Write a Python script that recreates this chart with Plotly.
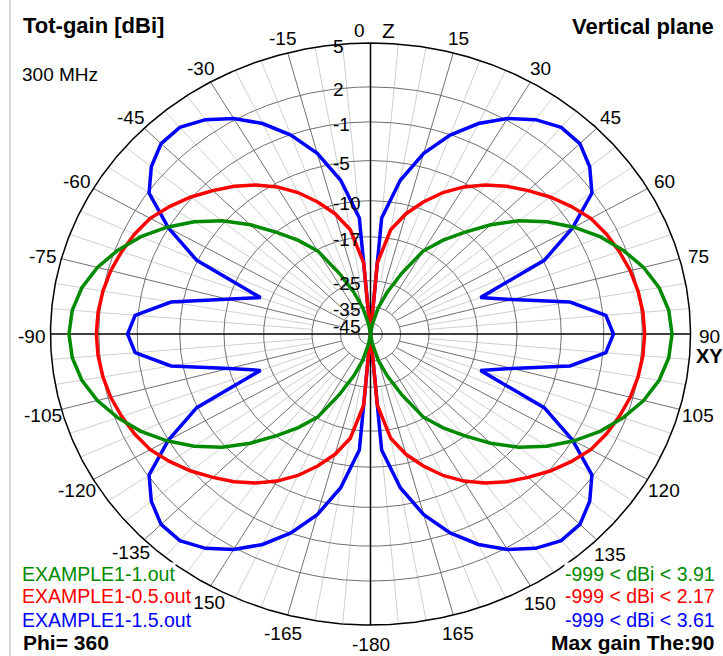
import numpy as np
import plotly.graph_objects as go

# Elevation angle (deg from +Z, positive to the right), 5 degree steps
theta = list(range(-180, 181, 5))

# Total gain [dBi] per file, theta = -180 ... 180
gain_1 = [
    -999, -63.8, -45.8, -35.1, -27.7, -22.0, -17.2, -13.4, -10.1, -7.2,
    -4.7, -2.6, -0.86, 0.62, 1.81, 2.73, 3.39, 3.78, 3.91,
    3.78, 3.39, 2.73, 1.81, 0.62, -0.86, -2.6, -4.7, -7.2, -10.1,
    -13.4, -17.2, -22.0, -27.7, -35.1, -45.8, -63.8,
    -999,
    -63.8, -45.8, -35.1, -27.7, -22.0, -17.2, -13.4, -10.1, -7.2,
    -4.7, -2.6, -0.86, 0.62, 1.81, 2.73, 3.39, 3.78,
    3.91, 3.78, 3.39, 2.73, 1.81, 0.62, -0.86, -2.6, -4.7, -7.2,
    -10.1, -13.4, -17.2, -22.0, -27.7, -35.1, -45.8, -63.8, -999,
]
gain_05 = [
    -999, -21.1, -15.1, -11.5, -9.0, -7.0, -5.4, -4.05, -2.9, -1.9,
    -0.9, -0.05, 0.7, 1.15, 1.5, 1.8, 2.0, 2.12, 2.17,
    2.12, 2.0, 1.8, 1.5, 1.15, 0.7, -0.05, -0.9, -1.9, -2.9,
    -4.05, -5.4, -7.0, -9.0, -11.5, -15.1, -21.1,
    -999,
    -21.1, -15.1, -11.5, -9.0, -7.0, -5.4, -4.05, -2.9, -1.9,
    -0.9, -0.05, 0.7, 1.15, 1.5, 1.8, 2.0, 2.12,
    2.17, 2.12, 2.0, 1.8, 1.5, 1.15, 0.7, -0.05, -0.9, -1.9,
    -2.9, -4.05, -5.4, -7.0, -9.0, -11.5, -15.1, -21.1, -999,
]
gain_15 = [
    -999, -13.0, -7.0, -3.5, -1.04, 0.78, 2.13, 3.05, 3.61, 3.58,
    2.95, 1.9, -1.0, -4.9, -15.0, -10.0, -3.8, -0.75, -0.2,
    -0.75, -3.8, -10.0, -15.0, -4.9, -1.0, 1.9, 2.95, 3.58, 3.61,
    3.05, 2.13, 0.78, -1.04, -3.5, -7.0, -13.0,
    -999,
    -13.0, -7.0, -3.5, -1.04, 0.78, 2.13, 3.05, 3.61, 3.58,
    2.95, 1.9, -1.0, -4.9, -15.0, -10.0, -3.8, -0.75,
    -0.2, -0.75, -3.8, -10.0, -15.0, -4.9, -1.0, 1.9, 2.95, 3.58,
    3.61, 3.05, 2.13, 0.78, -1.04, -3.5, -7.0, -13.0, -999,
]

files = ["EXAMPLE1-1.out", "EXAMPLE1-0.5.out", "EXAMPLE1-1.5.out"]
max_gain = ["3.91", "2.17", "3.61"]
colors = ["#008a00", "#ff0000", "#0000ff"]

# Gain rings of the log-style radial scale
ring_db = [5, 2, -1, -5, -10, -17, -25, -35, -45]
ring_pos = [1.0, 0.849, 0.729, 0.596, 0.458, 0.334, 0.183, 0.094, 0.037]
angle_labels = list(range(-180, 180, 15))

W, H = 723, 656
CX, CY = 370.5, 334.0
RX, RY = 320.0, 291.0

_xp = np.array(ring_db[::-1], float)
_fp = np.log(np.array(ring_pos[::-1], float))


def radius(db):
    db = np.asarray(db, float)
    r = np.exp(np.interp(db, _xp, _fp))
    low = db < ring_db[-1]
    r[low] = np.clip(ring_pos[-1] * (db[low] - ring_db[-1] + 10) / 10, 0, None)
    return r


def to_xy(t_deg, r):
    t = np.radians(np.asarray(t_deg, float))
    r = np.asarray(r, float)
    return CX + RX * r * np.sin(t), CY - RY * r * np.cos(t)


fig = go.Figure()


def add_lines(segments, color, width):
    xs, ys = [], []
    for sx, sy in segments:
        xs += list(sx) + [None]
        ys += list(sy) + [None]
    fig.add_trace(go.Scatter(x=xs, y=ys, mode="lines", hoverinfo="skip",
                             line=dict(color=color, width=width), showlegend=False))


# light 5-degree spokes
light = []
for a in range(0, 360, 5):
    if a % 15:
        light.append(to_xy([a, a], [ring_pos[6], 1.0]))
add_lines(light, "#cfcfcf", 1)

# dark 15-degree spokes
dark = []
for a in range(0, 360, 15):
    if a % 90:
        dark.append(to_xy([a, a], [ring_pos[7], 1.0]))
add_lines(dark, "#707070", 1)

# gain rings
t_full = np.linspace(0, 360, 721)
add_lines([to_xy(t_full, np.full_like(t_full, p)) for p in ring_pos[1:]], "#707070", 1)
add_lines([to_xy(t_full, np.ones_like(t_full))], "#000000", 1.5)

# Z and XY axes
add_lines([to_xy([0, 180], [1, 1]), to_xy([-90, 90], [1, 1])], "#000000", 1.5)

# left frame edge
fig.add_shape(type="line", xref="x", yref="y", x0=10, x1=10, y0=0, y1=H,
              line=dict(color="#c8c8c8", width=1.5))

# gain patterns (last file drawn first)
for g, c in [(gain_15, colors[2]), (gain_05, colors[1]), (gain_1, colors[0])]:
    x, y = to_xy(theta, radius(g))
    fig.add_trace(go.Scatter(x=x, y=y, mode="lines", hoverinfo="skip",
                             line=dict(color=c, width=3.5), showlegend=False))

FONT = "Liberation Sans"
ann = []


def text(x, y, s, size=19, color="black", bold=False, xa="center", ya="middle",
         bg=None, width=None):
    d = dict(x=x, y=y, xref="x", yref="y", text=f"<b>{s}</b>" if bold else s,
             showarrow=False, xanchor=xa, yanchor=ya,
             font=dict(family=FONT, size=size, color=color))
    if bg:
        d["bgcolor"] = bg
        d["borderpad"] = 0
    if width:
        d["width"] = width
        d["align"] = "left" if xa == "left" else "right"
    ann.append(d)


# angle labels around the rim
for a in angle_labels:
    lx, ly = to_xy(a, 1.06)
    if a == 0:
        text(CX - 4, 30, "0", xa="right")
    elif a == -150:
        text(float(lx) + 5, float(ly) + 1, str(a))
    elif a == -135:
        text(float(lx), float(ly), str(a))
    else:
        text(float(lx), float(ly) + 2, str(a))
text(CX + 9, 30, "Z", size=21, xa="left")
text(694, 356, "XY", size=20, bold=True, xa="left")

# ring labels along the Z axis
for db, p in zip(ring_db, ring_pos):
    text(331, CY - RY * p + 3, str(db), xa="left")

# header and footer texts
text(21, 25, "Tot-gain [dBi]", size=22, bold=True, xa="left")
text(20, 74, "300 MHz", xa="left")
text(716, 26, "Vertical plane", size=22, bold=True, xa="right")
for i, (f, m, c) in enumerate(zip(files, max_gain, colors)):
    yy = [574, 596, 620][i]
    text(21, yy, f, size=19.5, color=c, xa="left", bg="white",
         width=172 if i == 1 else None)
    text(716, yy, f"-999 &lt; dBi &lt; {m}", size=19.5, color=c, xa="right", bg="white")
text(21, 642, "Phi= 360", size=21, bold=True, xa="left")
text(716, 642, "Max gain The:90", size=21, bold=True, xa="right")

fig.update_layout(
    width=W, height=H, margin=dict(l=0, r=0, t=0, b=0),
    paper_bgcolor="white", plot_bgcolor="white",
    xaxis=dict(range=[0, W], visible=False, fixedrange=True),
    yaxis=dict(range=[H, 0], visible=False, fixedrange=True),
    annotations=ann, showlegend=False,
)
fig.write_html("out.html")
